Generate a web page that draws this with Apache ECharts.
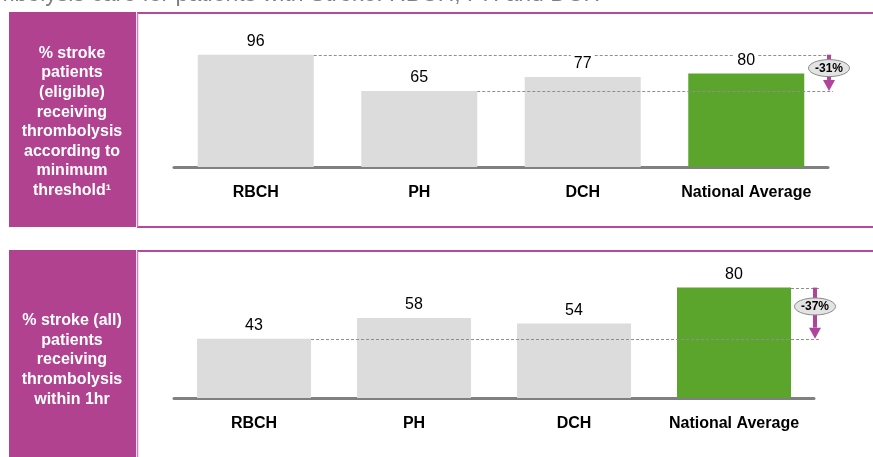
<!DOCTYPE html>
<html>
<head>
<meta charset="utf-8">
<script src="https://cdn.jsdelivr.net/npm/echarts@6/dist/echarts.min.js"></script>
<style>
  html, body { margin: 0; padding: 0; background: #ffffff; }
  #chart { width: 873px; height: 457px; }
</style>
</head>
<body>
<div id="chart"></div>
<script>
// ---- data ----
const categories = ['RBCH', 'PH', 'DCH', 'National Average'];
const eligibleValues = [96, 65, 77, 80];
const withinHourValues = [43, 58, 54, 80];
const eligibleGapLabel = '-31%';
const withinHourGapLabel = '-37%';
// reference lines: [index of higher bar, index of lower bar]
const eligibleRefPair = [0, 1];
const withinHourRefPair = [3, 0];
const titleText = 'thrombolysis care for patients with Stroke: RBCH, PH and DCH';
const eligibleCaption = '% stroke\npatients\n(eligible)\nreceiving\nthrombolysis\naccording to\nminimum\nthreshold\u00B9';
const withinHourCaption = '% stroke (all)\npatients\nreceiving\nthrombolysis\nwithin 1hr';

// ---- styling ----
const FONT = '"Liberation Sans", Arial, Helvetica, sans-serif';
const PURPLE = '#b04290';
const BORDER = '#b8489b';
const BORDER_LIGHT = '#cf7fb8';
const ARROW = '#b0439a';
const GREY_BAR = '#dcdcdc';
const GREEN_BAR = '#5ca52c';
const HIGHLIGHT = 'National Average';
const TOP_BAR_W = 116;
const BOTTOM_BAR_W = 114;

function barData(values) {
  return values.map((v, i) => ({
    value: v,
    itemStyle: { color: categories[i] === HIGHLIGHT ? GREEN_BAR : GREY_BAR }
  }));
}

function refData(values, pair) {
  return [[pair[0], values[pair[0]], pair[1], values[pair[1]]]];
}

// dashed reference lines from a bar's right edge to the panel edge, plus the
// magenta arrow with its oval percentage tag
function refRenderer(values, barW, gapLabel) {
  return function (params, api) {
    const cs = params.coordSys;
    const pHi = api.coord([api.value(0), api.value(1)]);
    const pLo = api.coord([api.value(2), api.value(3)]);
    const right = cs.x + cs.width;
    const arrowX = right + 1;
    const lineEnd = right + 5;
    const half = barW / 2;
    const children = [];

    // value-label boxes that a dashed line should step around
    const labelBoxes = values.map((v, i) => {
      const p = api.coord([i, v]);
      return { cx: p[0], bottom: p[1] - 4, top: p[1] - 22 };
    });

    [pHi, pLo].forEach(p => {
      const y = Math.round(p[1]) + 0.5;
      let segs = [[p[0] + half, lineEnd]];
      labelBoxes.forEach(b => {
        if (y >= b.top && y <= b.bottom) {
          const g0 = b.cx - 12, g1 = b.cx + 12;
          const next = [];
          segs.forEach(([a, c]) => {
            if (c <= g0 || a >= g1) { next.push([a, c]); return; }
            if (a < g0) next.push([a, g0]);
            if (c > g1) next.push([g1, c]);
          });
          segs = next;
        }
      });
      segs.forEach(([a, c]) => {
        children.push({
          type: 'line',
          shape: { x1: a, y1: y, x2: c, y2: y },
          style: { stroke: '#8f8f8f', lineWidth: 1, lineDash: [3, 2] }
        });
      });
    });

    const headH = 11;
    children.push({
      type: 'rect',
      shape: { x: arrowX - 2, y: pHi[1], width: 4, height: pLo[1] - headH - pHi[1] },
      style: { fill: ARROW }
    });
    children.push({
      type: 'polygon',
      shape: { points: [[arrowX - 6, pLo[1] - headH], [arrowX + 6, pLo[1] - headH], [arrowX, pLo[1]]] },
      style: { fill: ARROW }
    });
    const cy = pHi[1] + 0.37 * (pLo[1] - pHi[1]);
    children.push({
      type: 'ellipse',
      shape: { cx: arrowX, cy: cy, rx: 20.5, ry: 8.5 },
      style: { fill: '#e3e3e3', stroke: '#8a8a8a', lineWidth: 1 }
    });
    children.push({
      type: 'text',
      x: arrowX, y: cy + 0.5,
      style: {
        text: gapLabel, fill: '#000', font: 'bold 12px ' + FONT,
        align: 'center', verticalAlign: 'middle'
      }
    });
    return { type: 'group', children: children };
  };
}

function xAxisFor(gridIndex) {
  return {
    type: 'category', gridIndex: gridIndex, data: categories,
    axisLine: { lineStyle: { color: '#808080', width: 3 } },
    axisTick: { show: false },
    axisLabel: { interval: 0, margin: 18, fontSize: 16, fontWeight: 'bold', color: '#000', fontFamily: FONT }
  };
}

function yAxisFor(gridIndex) {
  return { type: 'value', gridIndex: gridIndex, min: 0, max: 100, show: false, splitLine: { show: false } };
}

function barSeries(idx, values, barW) {
  return {
    type: 'bar', xAxisIndex: idx, yAxisIndex: idx, z: 2,
    barWidth: barW, data: barData(values),
    label: { show: true, position: 'top', distance: 5, fontSize: 16, color: '#000', fontFamily: FONT }
  };
}

const chart = echarts.init(document.getElementById('chart'), null, { renderer: 'canvas' });

chart.setOption({
  animation: false,
  backgroundColor: '#ffffff',
  grid: [
    { left: 174, top: 50, width: 654, height: 117 },
    { left: 174, top: 260, width: 640, height: 138 }
  ],
  xAxis: [xAxisFor(0), xAxisFor(1)],
  yAxis: [yAxisFor(0), yAxisFor(1)],
  series: [
    barSeries(0, eligibleValues, TOP_BAR_W),
    barSeries(1, withinHourValues, BOTTOM_BAR_W),
    {
      type: 'custom', xAxisIndex: 0, yAxisIndex: 0, z: 3, silent: true,
      encode: { x: [0, 2], y: [1, 3] },
      data: refData(eligibleValues, eligibleRefPair),
      renderItem: refRenderer(eligibleValues, TOP_BAR_W, eligibleGapLabel)
    },
    {
      type: 'custom', xAxisIndex: 1, yAxisIndex: 1, z: 3, silent: true,
      encode: { x: [0, 2], y: [1, 3] },
      data: refData(withinHourValues, withinHourRefPair),
      renderItem: refRenderer(withinHourValues, BOTTOM_BAR_W, withinHourGapLabel)
    }
  ],
  graphic: [
    {
      type: 'text', x: 600, y: -5, silent: true,
      style: { text: titleText, fill: '#7f7f7f', font: '23px ' + FONT, align: 'right', verticalAlign: 'middle' }
    },
    // caption panels
    { type: 'rect', shape: { x: 9, y: 12, width: 127, height: 215 }, style: { fill: PURPLE }, silent: true },
    { type: 'rect', shape: { x: 9, y: 250, width: 127, height: 220 }, style: { fill: PURPLE }, silent: true },
    // chart frames
    { type: 'line', shape: { x1: 137, y1: 13, x2: 873, y2: 13 }, style: { stroke: BORDER, lineWidth: 2 }, silent: true },
    { type: 'line', shape: { x1: 137, y1: 227, x2: 873, y2: 227 }, style: { stroke: BORDER, lineWidth: 2 }, silent: true },
    { type: 'line', shape: { x1: 137.5, y1: 13, x2: 137.5, y2: 227 }, style: { stroke: BORDER_LIGHT, lineWidth: 1.5 }, silent: true },
    { type: 'line', shape: { x1: 137, y1: 251, x2: 873, y2: 251 }, style: { stroke: BORDER, lineWidth: 2 }, silent: true },
    { type: 'line', shape: { x1: 137.5, y1: 251, x2: 137.5, y2: 457 }, style: { stroke: BORDER_LIGHT, lineWidth: 1.5 }, silent: true },
    // captions
    {
      type: 'text', x: 72, y: 122, silent: true,
      style: { text: eligibleCaption, fill: '#ffffff', font: 'bold 16px ' + FONT, align: 'center', verticalAlign: 'middle', lineHeight: 19.6 }
    },
    {
      type: 'text', x: 72, y: 360, silent: true,
      style: { text: withinHourCaption, fill: '#ffffff', font: 'bold 16px ' + FONT, align: 'center', verticalAlign: 'middle', lineHeight: 19.6 }
    }
  ]
});
</script>
</body>
</html>
